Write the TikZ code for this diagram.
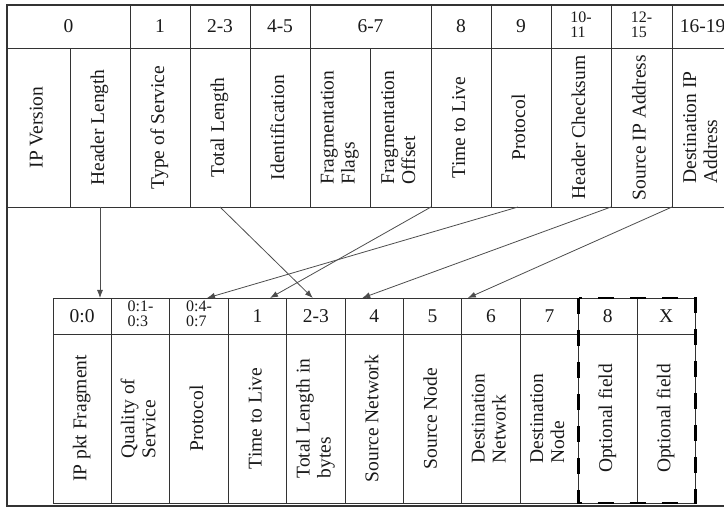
\documentclass[tikz,border=0pt]{standalone}
\usepackage{fontspec}
\setmainfont{Liberation Serif}
\usepackage{graphicx}
\usetikzlibrary{arrows.meta}

% rotated (bottom-to-top) and plain multi-line labels
\newcommand{\vlabel}[1]{\rotatebox{90}{\begin{tabular}{@{}l@{}}#1\end{tabular}}}
\newcommand{\hlabel}[1]{\begin{tabular}{@{}l@{}}#1\end{tabular}}

\begin{document}
\begin{tikzpicture}[
    x=1pt, y=1pt,
    cell/.style={
        draw=colLine, line width=0.9pt, inner sep=0pt, outer sep=0pt,
        minimum width=60pt, text=colText
    },
    tophead/.style={cell, minimum height=43pt, font=\fontsize{19.5}{20}\selectfont},
    topbody/.style={cell, minimum height=159pt, font=\fontsize{19.5}{21}\selectfont},
    bothead/.style={cell, minimum width=58.4pt, minimum height=36pt, font=\fontsize{19.5}{20}\selectfont},
    botbody/.style={cell, minimum width=58.4pt, minimum height=169pt, font=\fontsize{19.5}{21}\selectfont},
    smallfont/.style={font=\fontsize{16}{14}\selectfont},
    link/.style={draw=colArrow, line width=0.8pt, -{Latex[length=8pt,width=6pt]}},
    optbox/.style={draw=black, line width=2.6pt, dash pattern=on 16pt off 16pt},
    frame/.style={draw=colLine, line width=1.6pt}
]

% ============================
% COLOR DEFINITIONS
% ============================
\definecolor{colLine}{HTML}{333333}   % cell borders
\definecolor{colText}{HTML}{1A1A1A}   % labels
\definecolor{colArrow}{HTML}{4D4D4D}  % mapping arrows

\useasboundingbox (0,0) rectangle (724,507);
\clip (0,0) rectangle (724,507);

% ============================
% TOP TABLE: IP header (byte numbers)
% ============================
\node[tophead, minimum width=123pt] (h0) at (68.5,480.5) {0};
\node[tophead] (h1) at (160,480.5) {1};
\node[tophead] (h23) at (220,480.5) {2-3};
\node[tophead] (h45) at (280,480.5) {4-5};
\node[tophead, minimum width=121pt] (h67) at (370.5,480.5) {6-7};
\node[tophead] (h8) at (461,480.5) {8};
\node[tophead] (h9) at (521,480.5) {9};
\node[tophead, smallfont] (h1011) at (581,480.5) {\hlabel{10-\\11}};
\node[tophead, smallfont, minimum width=61pt] (h1215) at (641.5,480.5) {\hlabel{12-\\15}};
\node[tophead, minimum width=61pt] (h1619) at (702.5,480.5) {16-19};

% --- field names ---
\node[topbody, minimum width=63pt] (ipver) at (38.5,379.5) {\vlabel{IP Version}};
\node[topbody] (hlen) at (100,379.5) {\vlabel{Header Length}};
\node[topbody] (tos) at (160,379.5) {\vlabel{Type of Service}};
\node[topbody] (tlen) at (220,379.5) {\vlabel{Total Length}};
\node[topbody] (ident) at (280,379.5) {\vlabel{Identification}};
\node[topbody] (fflags) at (340,379.5) {\vlabel{Fragmentation\\Flags}};
\node[topbody, minimum width=61pt] (foffset) at (400.5,379.5) {\vlabel{Fragmentation\\Offset}};
\node[topbody] (ttl) at (461,379.5) {\vlabel{Time to Live}};
\node[topbody] (proto) at (521,379.5) {\vlabel{Protocol}};
\node[topbody] (hcsum) at (581,379.5) {\vlabel{Header Checksum}};
\node[topbody, minimum width=61pt] (srcip) at (641.5,379.5) {\vlabel{Source IP Address}};
\node[topbody, minimum width=61pt] (dstip) at (702.5,379.5) {\vlabel{Destination IP\\Address}};

% ============================
% BOTTOM TABLE: packet fields
% ============================
\node[bothead] (b00) at (82.2,191) {0:0};
\node[bothead, smallfont] (b01) at (140.6,191) {\hlabel{0:1-\\0:3}};
\node[bothead, smallfont] (b04) at (199,191) {\hlabel{0:4-\\0:7}};
\node[bothead] (b1) at (257.4,191) {1};
\node[bothead] (b23) at (315.8,191) {2-3};
\node[bothead] (b4) at (374.2,191) {4};
\node[bothead] (b5) at (432.6,191) {5};
\node[bothead] (b6) at (491,191) {6};
\node[bothead] (b7) at (549.4,191) {7};
\node[bothead] (b8) at (607.8,191) {8};
\node[bothead] (bX) at (666.2,191) {X};

% --- field names ---
\node[botbody] (frag) at (82.2,88.5) {\vlabel{IP pkt Fragment}};
\node[botbody] (qos) at (140.6,88.5) {\vlabel{Quality of\\Service}};
\node[botbody] (bproto) at (199,88.5) {\vlabel{Protocol}};
\node[botbody] (bttl) at (257.4,88.5) {\vlabel{Time to Live}};
\node[botbody] (blen) at (315.8,88.5) {\vlabel{Total Length in\\bytes}};
\node[botbody] (srcnet) at (374.2,88.5) {\vlabel{Source Network}};
\node[botbody] (srcnode) at (432.6,88.5) {\vlabel{Source Node}};
\node[botbody] (dstnet) at (491,88.5) {\vlabel{Destination\\Network}};
\node[botbody] (dstnode) at (549.4,88.5) {\vlabel{Destination\\Node}};
\node[botbody] (opt8) at (607.8,88.5) {\vlabel{Optional field}};
\node[botbody] (optx) at (666.2,88.5) {\vlabel{Optional field}};

% optional fields
\draw[optbox] (b8.north west) rectangle (optx.south east);

% ============================
% MAPPING ARROWS
% ============================
\draw[link] (hlen.south) -- (hlen.south |- b00.north);
\draw[link] (tlen.south) -- ([xshift=-3pt]b23.north);
\draw[link] (ttl.south west) -- ([xshift=12.6pt]b1.north);
\draw[link] ([xshift=-3pt]proto.south) -- ([xshift=8pt]b04.north);
\draw[link] (srcip.south west) -- ([xshift=-12pt]b4.north);
\draw[link] (dstip.south west) -- ([xshift=6pt]b6.north west);

% outer frame
\draw[frame] (7,1) rectangle (760,502);

\end{tikzpicture}
\end{document}
